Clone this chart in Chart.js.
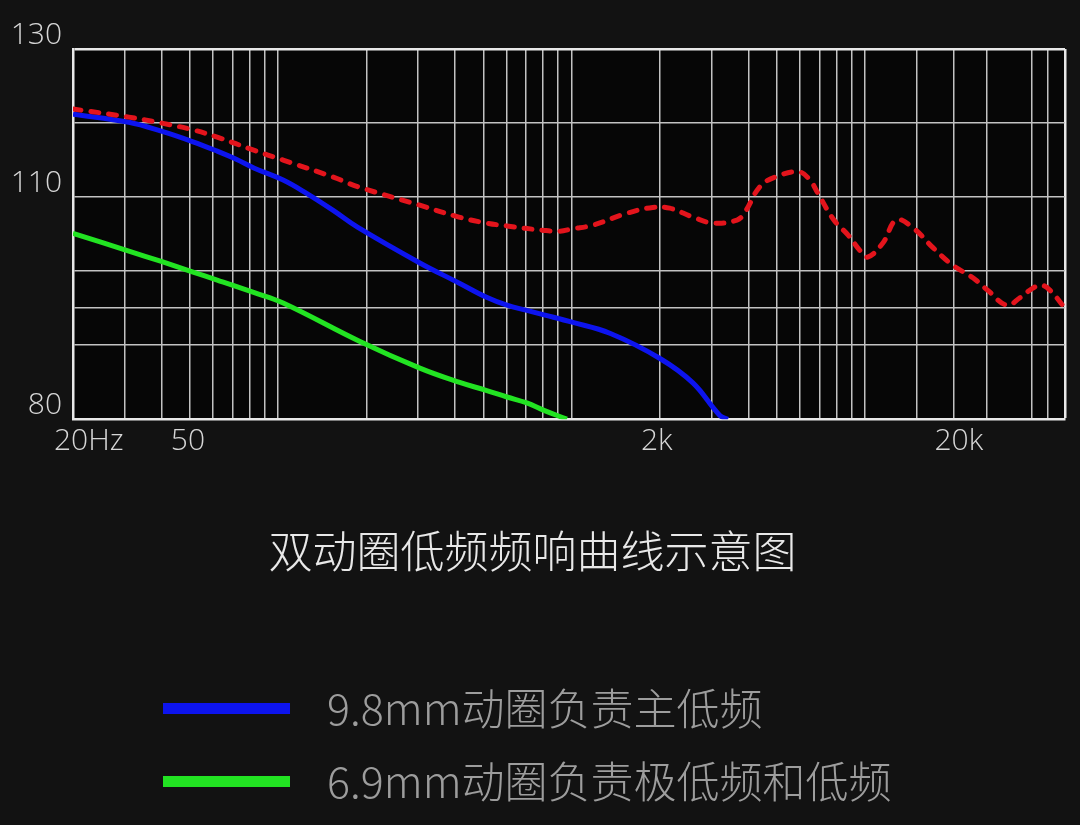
<!DOCTYPE html>
<html>
<head>
<meta charset="utf-8">
<script src="https://cdn.jsdelivr.net/npm/chart.js@4.4.1/dist/chart.umd.min.js"></script>
<style>
  html, body { margin: 0; padding: 0; background: #121212; }
  #wrap { width: 1080px; height: 825px; }
</style>
</head>
<body>
<div id="wrap"><canvas id="c" width="1080" height="825"></canvas></div>
<script>
// ---- data ----
const redFreq = [20, 31, 40, 51, 62, 83, 104, 154, 187, 304, 413, 511, 602, 805, 913, 1003, 1180, 1540, 1890, 2160, 2590, 3030, 3660, 3900, 4380, 4930, 5950, 6490, 6910, 7830, 8740, 9600, 10200, 11500, 12800, 14700, 17000, 19900, 23300, 26200, 30400, 33700, 37300, 40000, 42700, 48000];
const redDb   = [121.9, 120.8, 120.0, 119.1, 118.1, 116.3, 115.0, 112.7, 111.4, 108.9, 107.3, 106.5, 106.1, 105.5, 105.4, 105.7, 106.2, 107.8, 108.6, 108.5, 107.3, 106.5, 106.9, 108.0, 111.4, 112.7, 113.4, 112.3, 110.5, 106.9, 104.9, 102.8, 101.9, 103.8, 106.9, 105.7, 103.2, 100.8, 99.1, 97.4, 95.4, 96.4, 97.7, 98.1, 97.4, 95.0];

const blueFreq = [20, 31, 40, 51, 62, 72, 83, 104, 125, 154, 187, 304, 413, 511, 602, 704, 805, 1003, 1350, 2000, 2590, 3200, 3410];
const blueDb   = [121.2, 120.1, 118.9, 117.5, 116.2, 115.1, 113.9, 112.3, 110.5, 108.2, 105.9, 101.1, 98.4, 96.5, 95.4, 94.7, 94.1, 93.1, 91.6, 88.2, 84.9, 80.5, 80.0];

const greenFreq = [20, 31, 40, 51, 62, 83, 104, 190, 304, 413, 511, 602, 704, 805, 964];
const greenDb   = [105.1, 102.7, 101.3, 99.9, 98.8, 97.1, 95.7, 90.5, 86.9, 85.0, 83.9, 83.0, 82.2, 81.2, 80.0];

const seriesNames = ['总频响', '9.8mm动圈负责主低频', '6.9mm动圈负责极低频和低频'];
const seriesColors = ['#e3141c', '#0d14ee', '#22e322'];

const xGridFreqs = [20, 30, 40, 50, 60, 70, 80, 90, 100, 200, 300, 400, 500, 600, 700, 800, 900, 1000, 2000, 3000, 4000, 5000, 6000, 7000, 8000, 9000, 10000, 15000, 20000, 26000, 37000, 42000, 48000];
const xTickLabels = {20: '20Hz', 50: '50', 2000: '2k', 20000: '20k'};
const yGridValues = [80, 90, 95, 100, 110, 120, 130];
const yTickLabels = {80: '80', 110: '110', 130: '130'};
const chartTitle = '双动圈低频频响曲线示意图';

// ---- helpers ----
function toPoints(fs, vs) { return fs.map((f, i) => ({x: f, y: vs[i]})); }
function legendBar(color) {
  const c = document.createElement('canvas');
  c.width = 127; c.height = 11;
  const g = c.getContext('2d');
  g.fillStyle = color; g.fillRect(0, 0, 127, 11);
  return c;
}
const legendBars = seriesColors.map(legendBar);

const bgPlugin = {
  id: 'bg',
  beforeDraw(chart) {
    const {ctx, chartArea: a} = chart;
    ctx.save();
    ctx.fillStyle = '#121212';
    ctx.fillRect(0, 0, chart.width, chart.height);
    ctx.fillStyle = '#060606';
    ctx.fillRect(a.left, a.top, a.right - a.left, a.bottom - a.top);
    ctx.restore();
  }
};
const legendShift = {
  id: 'legendShift',
  afterLayout(chart) {
    if (chart.legend) chart.legend.left = 117.5;
  }
};

const tickFont = {family: "'Open Sans', 'Liberation Sans', sans-serif", size: 30, weight: 300};
const bright = '#e8e8e8', dim = '#c2c2c2';

new Chart(document.getElementById('c'), {
  type: 'line',
  data: {
    datasets: [
      {label: seriesNames[0], data: toPoints(redFreq, redDb), borderColor: seriesColors[0], backgroundColor: seriesColors[0],
       borderWidth: 5, borderDash: [8, 10], borderCapStyle: 'round', pointRadius: 0, fill: false, tension: 0.4},
      {label: seriesNames[1], data: toPoints(blueFreq, blueDb), borderColor: seriesColors[1], backgroundColor: seriesColors[1],
       borderWidth: 5, pointRadius: 0, fill: false, tension: 0.4},
      {label: seriesNames[2], data: toPoints(greenFreq, greenDb), borderColor: seriesColors[2], backgroundColor: seriesColors[2],
       borderWidth: 5, pointRadius: 0, fill: false, tension: 0.4}
    ]
  },
  options: {
    responsive: false,
    animation: false,
    devicePixelRatio: 1,
    layout: {padding: {top: 49, right: 15, bottom: 12, left: 0}},
    scales: {
      x: {
        type: 'logarithmic', min: 20, max: 48000,
        afterBuildTicks(scale) { scale.ticks = xGridFreqs.map(v => ({value: v})); },
        afterFit(scale) { scale.height = 50; },
        grid: {
          drawTicks: false,
          color: c => (c.tick && c.tick.value === 48000) ? bright : dim,
          lineWidth: c => (c.tick && c.tick.value === 48000) ? 2.5 : 1.5
        },
        border: {display: true, color: bright, width: 2.5},
        ticks: {
          autoSkip: false, maxRotation: 0, minRotation: 0,
          align: 'start', labelOffset: -19, padding: 4,
          color: '#d6d6d6', font: tickFont,
          callback: v => xTickLabels[v] ?? ''
        }
      },
      y: {
        type: 'linear', min: 80, max: 130,
        afterBuildTicks(scale) { scale.ticks = yGridValues.map(v => ({value: v})); },
        afterFit(scale) { scale.width = 73; },
        grid: {
          drawTicks: false,
          color: c => (c.tick && c.tick.value === 130) ? bright : dim,
          lineWidth: c => (c.tick && c.tick.value === 130) ? 2.5 : 1.5
        },
        border: {display: true, color: bright, width: 2.5},
        ticks: {
          autoSkip: false, padding: 11, labelOffset: -14,
          color: '#d6d6d6', font: tickFont,
          callback: v => yTickLabels[v] ?? ''
        }
      }
    },
    plugins: {
      tooltip: {enabled: false},
      title: {
        display: true, text: chartTitle, position: 'bottom', weight: 500,
        color: '#e8e8e8',
        font: {family: "'Noto Sans CJK SC', sans-serif", size: 44, weight: 300, lineHeight: 1.2},
        padding: {top: 56, bottom: 79}
      },
      legend: {
        display: true, position: 'bottom', align: 'start', weight: 1000,
        labels: {
          usePointStyle: true, pointStyleWidth: 158, padding: 30,
          color: '#9d9d9d',
          font: {family: "'Noto Sans CJK SC', sans-serif", size: 43, weight: 300},
          generateLabels(chart) {
            return chart.data.datasets.map((ds, i) => ({
              text: ds.label, fillStyle: ds.borderColor, strokeStyle: ds.borderColor,
              lineWidth: 0, pointStyle: legendBars[i], datasetIndex: i, hidden: false,
              fontColor: '#9d9d9d'
            })).filter(it => it.datasetIndex !== 0);
          }
        }
      }
    }
  },
  plugins: [bgPlugin, legendShift]
});
</script>
</body>
</html>
